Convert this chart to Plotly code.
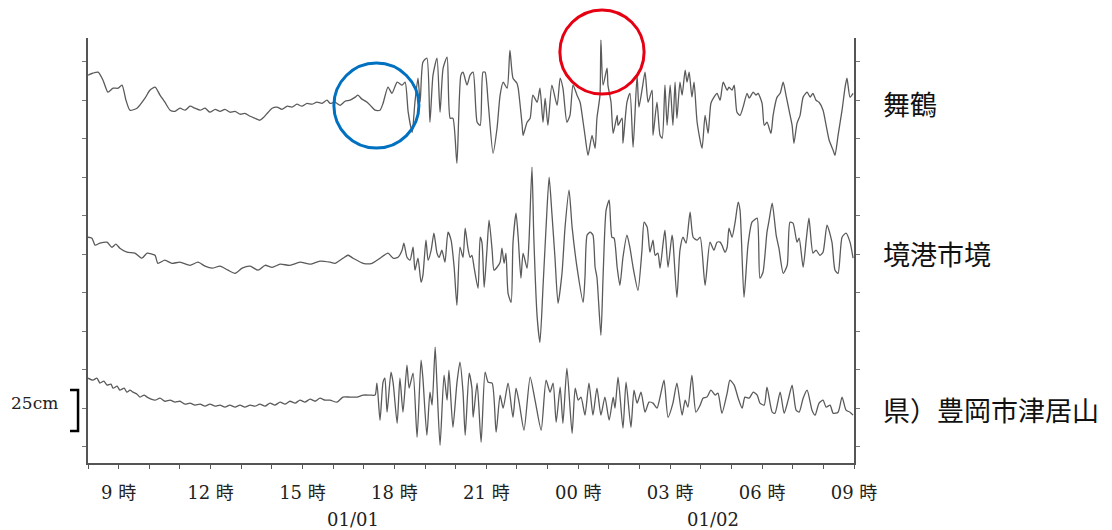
import plotly.graph_objects as go

# ---- data: hours since 01/01 00:00, water level deviation in cm ----
maizuru_t = [8.00,8.16,8.33,8.49,8.65,8.82,8.98,9.11,9.24,9.37,9.60,9.86,10.02,10.19,10.35,10.51,10.68,10.84,11.00,11.17,11.33,11.49,11.66,11.82,11.98,12.15,12.31,12.47,12.63,12.80,12.96,13.12,13.29,13.45,13.61,13.74,13.88,14.01,14.17,14.33,14.50,14.66,14.82,14.98,15.15,15.31,15.47,15.64,15.80,15.90,16.06,16.23,16.39,16.55,16.72,16.81,16.94,17.11,17.24,17.37,17.53,17.63,17.79,17.92,18.09,18.25,18.35,18.45,18.58,18.67,18.77,18.84,18.93,19.06,19.16,19.26,19.39,19.49,19.59,19.72,19.82,19.91,20.04,20.17,20.24,20.37,20.47,20.57,20.70,20.80,20.89,20.96,21.06,21.22,21.35,21.45,21.55,21.68,21.77,21.87,22.00,22.04,22.17,22.20,22.33,22.43,22.52,22.66,22.75,22.85,22.92,23.01,23.14,23.31,23.41,23.50,23.63,23.73,23.83,23.96,24.06,24.16,24.22,24.32,24.45,24.55,24.61,24.71,24.74,24.81,24.94,24.97,25.07,25.14,25.27,25.30,25.43,25.46,25.59,25.69,25.79,25.92,25.98,26.08,26.18,26.28,26.41,26.44,26.57,26.67,26.74,26.83,26.90,27.00,27.09,27.16,27.22,27.32,27.39,27.49,27.55,27.62,27.71,27.78,27.88,28.04,28.14,28.24,28.33,28.43,28.53,28.63,28.73,28.86,28.92,29.02,29.09,29.18,29.28,29.38,29.51,29.58,29.71,29.80,29.87,30.00,30.07,30.16,30.29,30.36,30.49,30.59,30.69,30.78,30.88,30.98,31.04,31.14,31.24,31.34,31.47,31.57,31.66,31.76,31.86,31.99,32.09,32.19,32.32,32.38,32.48,32.61,32.71,32.77,32.87,32.97]
maizuru_v = [16.3,17.6,18.2,13,5.2,7.8,7.8,9.8,0,-6.5,-5.2,1.3,6.5,8.5,3.3,-1.3,-6.5,-7.2,-5.2,-6.5,-3.9,-5.2,-6.5,-5.2,-7.8,-5.9,-7.2,-5.9,-7.8,-7.2,-9.1,-8.5,-10.4,-11.7,-13,-11,-7.8,-5.2,-4.5,-5.9,-3.9,-4.5,-2.6,-3.9,-2,-2.6,-1.3,-2,0,-2,-1.3,-3.3,-0.7,0,2,3.3,0.7,-1.3,-3.9,-6.5,-6.5,-2,8.5,4.5,11.7,9.8,11.7,-7.8,-20.8,-1.3,14.3,-1.3,24.7,27.3,-14.3,16.3,27.3,-7.8,20.8,28,-11.7,-11.7,-41,16.3,18.2,9.8,16.3,18.2,-14.3,-16.3,18.2,18.2,-1.3,-34.5,-18.2,3.3,11.7,7.8,32.5,14.3,11,7.8,-16.3,-22.8,-14.3,-11.7,3.3,-1.3,7.8,-14.3,1.3,-16.3,9.8,-3.3,14.3,7.8,-14.3,-9.8,9.8,3.3,-1.3,-14.3,-22.8,-35.8,-22.8,-31.2,-11.7,3.3,39,9.8,20.8,9.8,-1.3,-21.5,-9.8,-16.3,-11.7,-28,-1.3,4.5,-30.6,16.3,-4.5,6.5,18.2,-1.3,6.5,-22.8,-1.3,-22.8,-24.7,9.8,-16.3,9.8,-16.3,11.7,-11.7,11.7,3.3,19.5,11.7,18.2,2,11.7,-14.3,-31.2,-9.8,-21.5,-2,2,4.5,0,11.7,6.5,8.5,6.5,9.8,-7.8,-9.8,-4.5,4.5,1.3,5.2,3.3,4.5,-2,-16.3,-14.3,-21.5,-9.8,2,4.5,11.7,3.3,-6.5,-16.3,-28,-15,-9.8,2,5.2,2,4.5,0,-1.3,-6.5,-16.3,-26,-32.5,-35.8,-22.8,-6.5,8.5,14.3,2,4.5]

sakai_t = [8.00,8.13,8.23,8.39,8.62,8.78,8.91,9.04,9.27,9.53,9.76,9.93,10.09,10.19,10.28,10.51,10.74,11.00,11.33,11.59,11.82,12.05,12.31,12.57,12.80,13.03,13.29,13.55,13.78,14.01,14.27,14.59,14.92,15.25,15.57,15.90,16.06,16.32,16.49,16.65,16.98,17.27,17.53,17.79,17.96,18.12,18.25,18.31,18.41,18.51,18.61,18.67,18.77,18.87,18.93,19.03,19.10,19.20,19.29,19.39,19.46,19.55,19.65,19.75,19.85,19.95,20.04,20.14,20.24,20.31,20.40,20.47,20.53,20.60,20.73,20.80,20.86,20.93,21.02,21.09,21.19,21.25,21.35,21.45,21.51,21.58,21.64,21.71,21.81,21.87,21.97,22.04,22.13,22.20,22.33,22.39,22.49,22.55,22.66,22.75,22.85,22.95,23.05,23.14,23.24,23.34,23.47,23.57,23.70,23.80,23.96,24.16,24.22,24.29,24.39,24.48,24.55,24.61,24.74,24.81,24.91,25.01,25.10,25.17,25.27,25.36,25.46,25.59,25.69,25.79,25.95,26.08,26.15,26.25,26.34,26.44,26.51,26.60,26.67,26.77,26.83,26.93,27.06,27.09,27.22,27.32,27.42,27.52,27.65,27.75,27.88,27.98,28.14,28.30,28.43,28.53,28.63,28.69,28.79,28.86,28.92,29.02,29.12,29.22,29.28,29.41,29.54,29.67,29.74,29.84,29.93,30.03,30.16,30.23,30.33,30.46,30.55,30.69,30.82,30.91,31.01,31.14,31.21,31.34,31.44,31.53,31.66,31.76,31.89,31.99,32.12,32.28,32.38,32.48,32.61,32.74,32.87,32.97]
sakai_v = [11,10.4,5.9,7.2,7.8,4.5,6.5,3.9,1.3,0.7,-2.6,0.7,0,-0.7,-5.9,-3.9,-5.9,-5.2,-7.2,-5.2,-7.8,-9.1,-7.8,-10.4,-12.4,-9.1,-7.8,-10.4,-7.2,-8.5,-6.5,-7.2,-5.2,-6.5,-4.5,-5.2,-5.9,-2.6,-0.7,-2.6,-5.9,-5.9,-2.6,0.7,-2.6,-2,2.6,7.2,-2,-3.9,4.5,-10.4,-2.6,-18.2,-13.7,9.1,-3.9,2.6,13.7,0.7,-2,2.6,-5.2,14.3,9.1,-8.5,-33.2,4.5,-2,16.9,3.9,-2,-0.7,-8.5,-22.1,11,7.2,-21.5,2.6,22.1,2.6,-10.4,-8.5,-5.2,3.9,-5.9,0.7,-25.4,-31.2,7.2,26.7,11,-15.6,0.7,-9.1,7.2,56.6,11,-41,-57.2,-21.5,17.6,50,26.7,-2,-31.9,-12.4,17.6,41.6,17.6,-8.5,-31.2,-15,12.4,14.3,12.4,-8.5,-15,-52.7,-15,28.6,35.1,11,10.4,-8.5,-20.2,-2,12.4,3.9,-8.5,-23.4,2.6,20.8,17.6,1.3,9.1,-0.7,0.7,-9.1,7.2,15.6,-8.5,12.4,9.1,-28,2.6,11,7.2,27.3,11,9.1,11,-20.2,7.8,2.6,7.8,7.8,5.9,1.3,4.5,16.9,11,20.8,33.8,28.6,-28,5.9,20.8,22.1,23.4,-15.6,-11.7,14.3,22.1,33.2,12.4,3.9,-12.4,-7.2,20.8,20.2,7.8,10.4,-8.5,9.1,23.4,0.7,2.6,-0.7,1.3,18.9,7.8,-10.4,-12.4,11,13.7,7.8,-2.6]

toyooka_t = [8.00,8.16,8.29,8.39,8.52,8.62,8.75,8.82,8.95,9.04,9.18,9.27,9.37,9.47,9.60,9.70,9.83,9.93,10.06,10.19,10.35,10.51,10.68,10.84,11.00,11.17,11.33,11.49,11.66,11.82,11.98,12.15,12.31,12.47,12.63,12.80,12.96,13.12,13.29,13.45,13.61,13.78,13.94,14.10,14.27,14.43,14.59,14.76,14.92,15.08,15.25,15.41,15.57,15.74,15.90,16.13,16.32,16.55,16.78,16.98,17.20,17.37,17.43,17.53,17.63,17.69,17.76,17.89,17.96,18.09,18.18,18.28,18.41,18.48,18.61,18.74,18.87,18.93,19.06,19.16,19.23,19.33,19.39,19.49,19.62,19.72,19.78,19.91,20.04,20.14,20.24,20.31,20.44,20.53,20.57,20.70,20.83,20.96,21.06,21.19,21.32,21.45,21.55,21.71,21.87,21.97,22.07,22.23,22.43,22.59,22.79,22.95,23.08,23.18,23.28,23.41,23.50,23.63,23.80,23.90,24.00,24.09,24.22,24.35,24.48,24.61,24.74,24.87,25.01,25.14,25.20,25.30,25.46,25.56,25.72,25.82,25.92,26.05,26.18,26.31,26.44,26.57,26.67,26.80,26.93,27.09,27.22,27.39,27.49,27.58,27.71,27.84,27.98,28.07,28.20,28.33,28.47,28.56,28.69,28.86,28.95,29.09,29.22,29.35,29.44,29.58,29.71,29.84,29.93,30.07,30.16,30.33,30.42,30.59,30.72,30.85,30.98,31.11,31.21,31.34,31.47,31.63,31.73,31.86,31.99,32.09,32.22,32.32,32.48,32.61,32.74,32.87,32.97]
toyooka_v = [19.5,18.2,19.5,16.3,17.6,15,15.6,13,14.3,11.7,13,10.4,11.7,10.4,9.1,7.2,8.5,7.2,5.9,5.2,6.5,4.5,5.2,3.9,4.5,2.6,3.3,2,2.6,1.3,2.6,1.3,2,0.7,2,0.7,2,0.7,2,1.3,2.6,1.3,3.3,2,3.9,2.6,4.5,3.3,5.2,3.9,5.9,4.5,6.5,5.2,5.2,3.9,7.2,7.2,7.2,8.5,8.5,8.5,16.3,-7.8,16.9,19.5,-2.6,23.4,16.3,-9.8,19.5,-2.6,28,13,22.8,-18.9,31.2,19.5,-17.6,10.4,2,39.7,15,-24.1,21.5,5.2,24.7,-12.4,16.3,29.9,10.4,-17.6,22.8,13,-5.9,16.3,-22.1,23.4,16.9,16.3,-15.6,8.5,0,16.3,-5.9,13,3.9,-14.3,20.2,5.2,-14.3,18.2,10.4,16.3,-9.1,13.7,-9.8,26,-16.3,13,5.2,7.2,-4.5,16.3,-4.5,13,-4.5,7.2,-7.8,7.2,0,20.2,-13,16.9,-12.4,11.7,3.3,10.4,-2.6,3.9,3.3,0,7.2,18.2,-5.9,3.3,16.3,-4.5,5.2,0.7,21.5,-2.6,2,6.5,7.2,11.7,8.5,9.8,-3.3,9.8,18.2,15,6.5,0,7.2,6.5,10.4,8.5,3.3,2,13.7,-2.6,-3.3,10.4,-3.3,5.2,15,-1.3,-2.6,6.5,11.7,-1.3,-4.5,3.3,5.2,0.7,2,-3.3,-2.6,7.2,-1.3,-2.6,-4.5]

stations = ["舞鶴", "境港市境", "県）豊岡市津居山"]
offsets = [225, 125, 25]          # trace baselines on the common cm axis
hour_ticks = list(range(8, 34))
label_hours = [9, 12, 15, 18, 21, 24, 27, 30, 33]
label_text = ["9 時", "12 時", "15 時", "18 時", "21 時", "00 時", "03 時", "06 時", "09 時"]
dates = ["01/01", "01/02"]
scale_label = "25cm"

series = [(maizuru_t, maizuru_v), (sakai_t, sakai_v), (toyooka_t, toyooka_v)]

fig = go.Figure()
for (t, v), off, name in zip(series, offsets, stations):
    fig.add_trace(go.Scatter(x=t, y=[off + d for d in v], mode="lines", name=name,
                             line=dict(color="#5a5a5a", width=1.3, shape="spline", smoothing=0.6),
                             hoverinfo="skip"))

ticktext = [label_text[label_hours.index(h)] if h in label_hours else "" for h in hour_ticks]
tick_font = dict(family="DejaVu Serif, Noto Sans CJK JP", size=18, color="#222")

fig.update_layout(
    width=1112, height=530,
    margin=dict(l=88, r=258, t=38, b=67),
    paper_bgcolor="white", plot_bgcolor="white",
    showlegend=False,
    xaxis=dict(range=[8, 33], tickmode="array", tickvals=hour_ticks, ticktext=ticktext,
               ticks="outside", ticklen=4, tickcolor="#555", tickwidth=1,
               showline=True, linecolor="#555", linewidth=1.5, showgrid=False, zeroline=False,
               tickfont=tick_font, ticklabelstandoff=9),
    yaxis=dict(range=[-10.6, 265.4], tickmode="array", tickvals=list(range(0, 251, 25)),
               showticklabels=False, ticks="outside", ticklen=4, tickcolor="#777",
               showline=True, linecolor="#555", linewidth=1.5, mirror="ticks",
               showgrid=False, zeroline=False),
)

# station labels
for name, yp in zip(stations, [0.845, 0.494, 0.125]):
    fig.add_annotation(x=1.035, y=yp, xref="paper", yref="paper", text=name, showarrow=False,
                       xanchor="left", yanchor="middle",
                       font=dict(family="Noto Sans CJK JP", size=27, color="#111"))

# date labels
for d, xp in zip(dates, [0.346, 0.816]):
    fig.add_annotation(x=xp, y=-0.132, xref="paper", yref="paper", text=d, showarrow=False,
                       xanchor="center", yanchor="middle", font=tick_font)

# 25 cm scale bar
fig.add_annotation(x=-0.07, y=0.141, xref="paper", yref="paper", text=scale_label, showarrow=False,
                   xanchor="center", yanchor="middle",
                   font=dict(family="DejaVu Serif", size=17, color="#222"))
fig.add_shape(type="path", xref="paper", yref="paper",
              path="M -0.0235,0.1718 L -0.013,0.1718 L -0.013,0.0753 L -0.0235,0.0753",
              line=dict(color="black", width=2.5))

# highlight circles
fig.add_shape(type="circle", xref="paper", yref="paper", x0=0.321, x1=0.432, y0=0.741, y1=0.941,
              line=dict(color="#0070C0", width=3))
fig.add_shape(type="circle", xref="paper", yref="paper", x0=0.616, x1=0.726, y0=0.868, y1=1.066,
              line=dict(color="#E60012", width=3))

fig.write_html("out.html", config={"displayModeBar": False})

# remove the browser's default page margin so the figure sits at the window origin
with open("out.html", encoding="utf-8") as f:
    html = f.read()
html = html.replace("<head>", "<head><style>html,body{margin:0;padding:0;overflow:hidden;}</style>", 1)
with open("out.html", "w", encoding="utf-8") as f:
    f.write(html)
